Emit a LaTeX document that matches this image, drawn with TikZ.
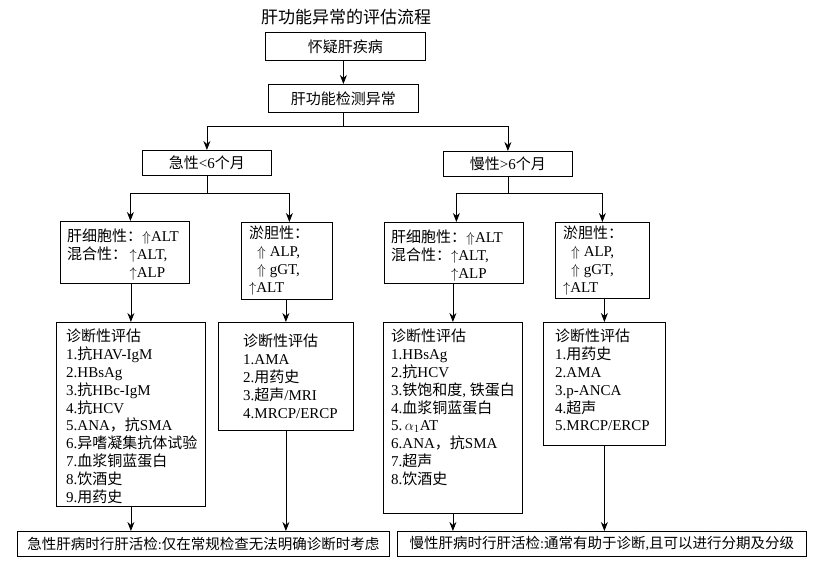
\documentclass[tikz,border=0pt]{standalone}
\usepackage{fontspec}
\usetikzlibrary{arrows.meta}
\setmainfont{Liberation Serif}
\newfontfamily\cjk{Noto Sans CJK SC}
\newcommand\zh[1]{{\cjk #1}}
\begin{document}
\begin{tikzpicture}[x=1pt,y=-1pt,
  box/.style={draw,thick,rectangle,inner sep=0pt,anchor=north west},
  txt/.style={inner sep=0pt,anchor=north west,align=left,font=\fontsize{15}{17.8}\selectfont},
  arr/.style={-{Stealth[length=9pt,width=7pt]},thick}]
\useasboundingbox (0,0) rectangle (828,572);
\node[font=\fontsize{17}{18}\selectfont] (title) at (346,17) {\zh{肝功能异常的评估流程}};
% top boxes
\node[box,minimum width=160,minimum height=28,font=\fontsize{15}{17}\selectfont] (suspect) at (265,32) {\zh{怀疑肝疾病}};
\node[box,minimum width=150,minimum height=28,font=\fontsize{15}{17}\selectfont] (abn) at (268,84) {\zh{肝功能检测异常}};
\node[box,minimum width=129,minimum height=25,font=\fontsize{15}{17}\selectfont] (acute) at (142,150) {\zh{急性}<6\zh{个月}};
\node[box,minimum width=129,minimum height=25,font=\fontsize{15}{17}\selectfont] (chronic) at (443,151) {\zh{慢性}>6\zh{个月}};
% second level
\node[box,minimum width=129,minimum height=62] (hepA) at (60,221) {};
\node[txt] at ([shift={(7,8)}]hepA.north west) {\zh{肝细胞性：}$\Uparrow$ALT\\\zh{混合性：}\,$\uparrow$ALT,\\\phantom{\zh{混合性：}\,}$\uparrow$ALP};
\node[box,minimum width=91,minimum height=77] (cholA) at (241,222) {};
\node[txt] at ([shift={(8,4)}]cholA.north west) {\zh{淤胆性：}\\\hspace*{8pt}$\Uparrow$ ALP,\\\hspace*{8pt}$\Uparrow$ gGT,\\$\uparrow$ALT};
\node[box,minimum width=139,minimum height=61] (hepC) at (384,222) {};
\node[txt] at ([shift={(7,8)}]hepC.north west) {\zh{肝细胞性：}$\Uparrow$ALT\\\zh{混合性：}$\uparrow$ALT,\\\phantom{\zh{混合性：}}$\uparrow$ALP};
\node[box,minimum width=94,minimum height=76] (cholC) at (555,222) {};
\node[txt] at ([shift={(8,4)}]cholC.north west) {\zh{淤胆性：}\\\hspace*{8pt}$\Uparrow$ ALP,\\\hspace*{8pt}$\Uparrow$ gGT,\\$\uparrow$ALT};
% diagnosis boxes
\node[box,minimum width=149,minimum height=184] (diagHA) at (56,322) {};
\node[txt] at ([shift={(10,7)}]diagHA.north west) {\zh{诊断性评估}\\1.\zh{抗}HAV-IgM\\2.HBsAg\\3.\zh{抗}HBc-IgM\\4.\zh{抗}HCV\\5.ANA\zh{，抗}SMA\\6.\zh{异嗜凝集抗体试验}\\7.\zh{血浆铜蓝蛋白}\\8.\zh{饮酒史}\\9.\zh{用药史}};
\node[box,minimum width=135,minimum height=108] (diagCA) at (218,322) {};
\node[txt] at ([shift={(25,12)}]diagCA.north west) {\zh{诊断性评估}\\1.AMA\\2.\zh{用药史}\\3.\zh{超声}/MRI\\4.MRCP/ERCP};
\node[box,minimum width=139,minimum height=191] (diagHC) at (383,322) {};
\node[txt] at ([shift={(8,7)}]diagHC.north west) {\zh{诊断性评估}\\1.HBsAg\\2.\zh{抗}HCV\\3.\zh{铁饱和度}, \zh{铁蛋白}\\4.\zh{血浆铜蓝蛋白}\\5.\,$\alpha_{1}$AT\\6.ANA\zh{，抗}SMA\\7.\zh{超声}\\8.\zh{饮酒史}};
\node[box,minimum width=122,minimum height=123] (diagCC) at (543,322) {};
\node[txt] at ([shift={(12,7)}]diagCC.north west) {\zh{诊断性评估}\\1.\zh{用药史}\\2.AMA\\3.p-ANCA\\4.\zh{超声}\\5.MRCP/ERCP};
% biopsy boxes
\node[box,minimum width=372,minimum height=25,font=\fontsize{14.5}{17}\selectfont] (biopA) at (17,531) {\zh{急性肝病时行肝活检}:\zh{仅在常规检查无法明确诊断时考虑}};
\node[box,minimum width=409,minimum height=25,font=\fontsize{14.5}{17}\selectfont] (biopC) at (397,531) {\zh{慢性肝病时行肝活检}:\zh{通常有助于诊断},\zh{且可以进行分期及分级}};
% connectors
\draw[arr] (suspect.south -| abn.north) -- (abn.north);
\draw[thick] (abn.south) -- ++(0,14) coordinate (j1);
\draw[arr] (j1) -| (acute.north);
\draw[arr] (j1) -| (chronic.north);
\draw[thick] (acute.south) -- ++(0,18) coordinate (j2);
\draw[arr] (j2) -| ([xshift=5.5]hepA.north);
\draw[arr] (j2) -| ([xshift=2.5]cholA.north);
\draw[thick] (chronic.south) -- ++(0,17) coordinate (j3);
\draw[arr] (j3) -| ([xshift=2.5]hepC.north);
\draw[arr] (j3) -| (cholC.north);
\draw[arr] (hepA.south -| diagHA.north) -- (diagHA.north);
\draw[arr] (cholA.south -| diagCA.north) -- (diagCA.north);
\draw[arr] (hepC.south -| diagHC.north) -- (diagHC.north);
\draw[arr] (cholC.south -| diagCC.north) -- (diagCC.north);
\draw[arr] (diagHA.south) -- (diagHA.south |- biopA.north);
\draw[arr] (diagCA.south) -- (diagCA.south |- biopA.north);
\draw[arr] (diagHC.south) -- (diagHC.south |- biopC.north);
\draw[arr] (diagCC.south) -- (diagCC.south |- biopC.north);
\end{tikzpicture}
\end{document}
